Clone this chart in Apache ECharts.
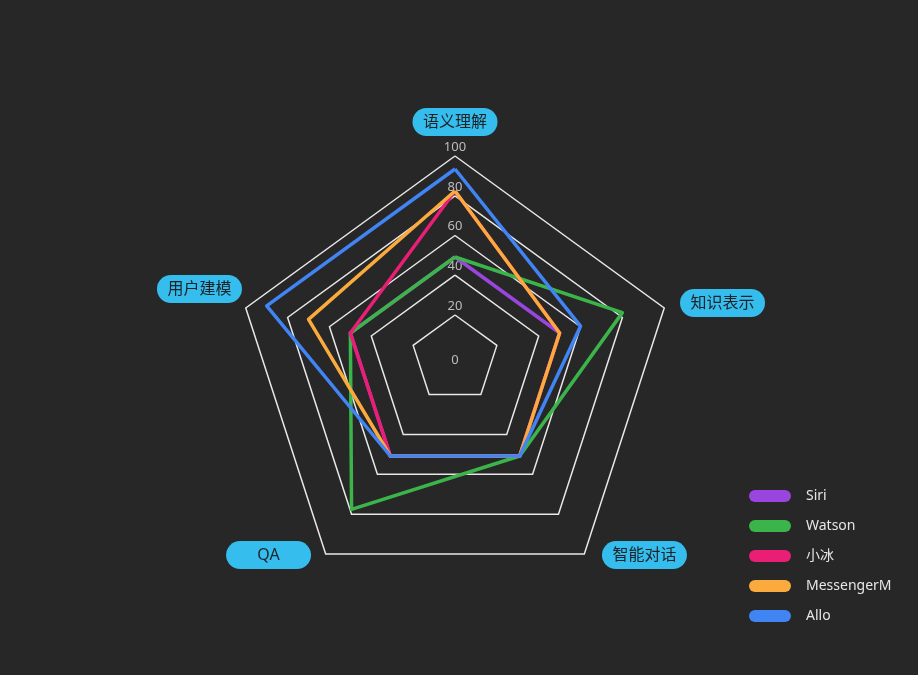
<!DOCTYPE html>
<html><head><meta charset="utf-8">
<script src="https://cdn.jsdelivr.net/npm/echarts@6/dist/echarts.min.js"></script>
<style>html,body{margin:0;padding:0;background:#272727}#c{width:918px;height:675px}</style>
</head><body><div id="c"></div>
<script>
// indicators, counter-clockwise from the top (ECharts radar order)
const indicatorNames = ['语义理解', '用户建模', 'QA', '智能对话', '知识表示'];
const seriesNames = ['Siri', 'Watson', '小冰', 'MessengerM', 'Allo'];
const siri       = [50, 50, 50, 50, 50];
const watson     = [50, 50, 80, 50, 80];
const xiaobing   = [80, 50, 50, 50, 50];
const messengerM = [80, 70, 50, 50, 50];
const allo       = [90, 90, 50, 50, 60];
const tickValues = [0, 20, 40, 60, 80, 100];

const seriesValues = [siri, watson, xiaobing, messengerM, allo];
const colors = ['#9b45e0', '#3bb54a', '#e91e74', '#fbab3d', '#4184f3'];
const axisMin = tickValues[0];
const axisMax = tickValues[tickValues.length - 1];
const splitCount = tickValues.length - 1;
const FONT = '"Noto Sans", "Noto Sans CJK SC", sans-serif';

// split rings (the reference draws them slightly offset from each other)
const ringLayout = [
  { c: [455, 359], r: 44 },
  { c: [455, 363.2], r: 88 },
  { c: [455, 367.5], r: 132 },
  { c: [455, 371.8], r: 176 },
  { c: [455, 376], r: 220 }
];
// where each indicator name sits (one helper radar per name)
const nameLayout = [
  { c: [455, 369], r: 233 },
  { c: [455, 358.2], r: 224 },
  { c: [455, 356.9], r: 244.9 },
  { c: [455, 352.8], r: 250 },
  { c: [455, 376.1], r: 236.6 }
];

const hidden = { show: false };
function baseRadar(center, radius, split) {
  return {
    center: center, radius: radius, splitNumber: split, shape: 'polygon', startAngle: 90,
    axisName: hidden, axisLine: hidden, axisTick: hidden, axisLabel: hidden,
    splitArea: hidden, splitLine: hidden, silent: true
  };
}

const ringRadars = ringLayout.map(function (l) {
  const r = baseRadar(l.c, l.r, 1);
  r.indicator = indicatorNames.map(function () { return { name: '', min: axisMin, max: axisMax }; });
  r.splitLine = { show: true, lineStyle: { color: '#e8e8e8', width: 1.5 } };
  return r;
});

const nameRadars = nameLayout.map(function (l, k) {
  const r = baseRadar(l.c, l.r, splitCount);
  r.indicator = indicatorNames.map(function (n, i) {
    return { name: i === k ? n : '', min: axisMin, max: axisMax };
  });
  r.nameGap = 0;
  r.axisName = {
    show: true,
    formatter: function (n) { return n ? '{b|' + n + '}' : ''; },
    rich: {
      b: {
        width: 85, height: 28, lineHeight: 28, align: 'center', verticalAlign: 'middle',
        backgroundColor: '#35bdee', borderRadius: 14,
        color: '#1d2227', fontSize: 16, fontFamily: FONT
      }
    }
  };
  return r;
});

const labelRadar = baseRadar([455, 346], 199, splitCount);
labelRadar.indicator = indicatorNames.map(function (n, i) {
  return { name: '', min: axisMin, max: axisMax, axisLabel: { show: i === 0 } };
});
labelRadar.axisLabel = {
  show: true, margin: 0, align: 'center', verticalAlign: 'middle',
  color: '#bdbdbd', fontSize: 13, fontFamily: FONT,
  showMinLabel: true, showMaxLabel: true, hideOverlap: false,
  formatter: function (v) { return v === 0 ? '{z|0}' : String(v); },
  rich: { z: { padding: [28, 0, 0, 0], color: '#bdbdbd', fontSize: 13, fontFamily: FONT } }
};

const dataRadar = baseRadar([455, 367], 220, splitCount);
dataRadar.indicator = indicatorNames.map(function (n) { return { name: n, min: axisMin, max: axisMax }; });

const radars = ringRadars.concat(nameRadars, [labelRadar, dataRadar]);

const chart = echarts.init(document.getElementById('c'), null, { renderer: 'canvas' });
chart.setOption({
  backgroundColor: '#272727',
  color: colors,
  animation: false,
  legend: {
    orient: 'vertical', left: 744, top: 484,
    itemWidth: 42, itemHeight: 12, itemGap: 16,
    icon: 'path://M6,0H36A6,6,0,0,1,36,12H6A6,6,0,0,1,6,0Z',
    textStyle: { color: '#e6e6e6', fontSize: 14, fontFamily: FONT, padding: [0, 0, 0, 10] },
    data: seriesNames
  },
  radar: radars,
  series: [{
    type: 'radar',
    radarIndex: radars.length - 1,
    symbol: 'none',
    lineStyle: { width: 3.5 },
    data: seriesNames.map(function (n, i) {
      return {
        name: n, value: seriesValues[i],
        lineStyle: { color: colors[i], width: 3.5 },
        itemStyle: { color: colors[i] }
      };
    })
  }]
});
</script>
</body></html>
